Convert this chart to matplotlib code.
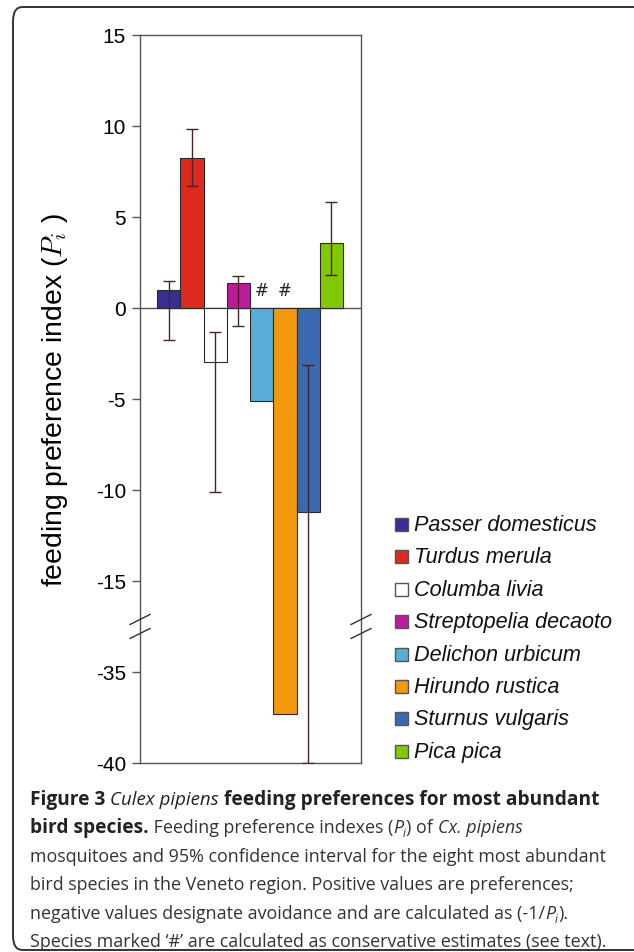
import numpy as np
import matplotlib
matplotlib.use("Agg")
import matplotlib.pyplot as plt
from matplotlib.patches import Rectangle, FancyBboxPatch

plt.rcParams['axes.unicode_minus'] = False
plt.rcParams['mathtext.fontset'] = 'cm'

species = ['Passer domesticus', 'Turdus merula', 'Columba livia',
           'Streptopelia decaoto', 'Delichon urbicum', 'Hirundo rustica',
           'Sturnus vulgaris', 'Pica pica']
pref_index = [1.0, 8.25, -2.95, 1.35, -5.1, -37.3, -11.2, 3.55]
ci_low = [-1.75, 6.7, -10.1, -1.0, None, None, -40.0, 1.8]
ci_high = [1.5, 9.85, -1.3, 1.75, None, None, -3.15, 5.85]
conservative = [False, False, False, False, True, True, False, False]
colors = ['#382f94', '#dd2a1f', '#ffffff', '#bb1b9b', '#59aed9',
          '#f3980d', '#3a68b1', '#80c802']
yticks = [15, 10, 5, 0, -5, -10, -15, -35, -40]

W, H = 634, 953

def fx(px):
    return px / W

def fy(py):
    return 1 - py / H

# broken y axis: values between -32.5 and -17.5 are squeezed out
def fwd(v):
    v = np.asarray(v, dtype=float)
    return np.where(v >= -17.5, v, np.where(v <= -32.5, v + 15, -17.5))

def inv(t):
    t = np.asarray(t, dtype=float)
    return np.where(t >= -17.5, t, t - 15)

fig = plt.figure(figsize=(W / 100, H / 100), dpi=100)
ax = fig.add_axes([fx(140), fy(764), fx(361) - fx(140), fy(36) - fy(764)])
ax.set_yscale('function', functions=(fwd, inv))

x = np.arange(len(species))
ax.bar(x, pref_index, width=1.0, color=colors, edgecolor='#2a2a2a',
       linewidth=0.8, zorder=2)
ax.axhline(0, color='#555555', lw=1.0, zorder=1)

idx = [i for i in range(len(species)) if ci_low[i] is not None]
vals = np.array([pref_index[i] for i in idx])
lo = np.array([ci_low[i] for i in idx])
hi = np.array([ci_high[i] for i in idx])
ax.errorbar(x[idx], vals, yerr=[vals - lo, hi - vals], fmt='none',
            ecolor='#4a2424', elinewidth=1.0, capsize=4, capthick=1.0,
            zorder=3)

for i in range(len(species)):
    if conservative[i]:
        ax.text(x[i], 1.0, '#', ha='center', va='center', fontsize=12,
                family='DejaVu Sans', color='#222222')

ax.set_xlim(-1.23, 8.27)
ax.set_ylim(-40, 15)
ax.set_xticks([])
ax.set_yticks(yticks)
ax.set_yticklabels([str(t) for t in yticks], family='Liberation Sans',
                   fontsize=15)
ax.tick_params(axis='y', direction='out', length=6, width=1,
               color='#555555', pad=4)
for s in ax.spines.values():
    s.set_color('#555555')
    s.set_linewidth(1.0)

ax.set_ylabel('feeding preference index ($P_i$ )', family='Liberation Sans',
              fontsize=20.4)
ax.yaxis.set_label_coords(-0.317, 0.5)

# break marks on both spines
yb = (float(fwd(-17.5)) - float(fwd(-40))) / (float(fwd(15)) - float(fwd(-40)))
axw, axh = 221.0, 728.0
for xs in (0.0, 1.0):
    for off in (-7, 7):
        ax.plot([xs - 10 / axw, xs + 10 / axw],
                [yb + (off - 5) / axh, yb + (off + 5) / axh],
                transform=ax.transAxes, color='#333333', lw=1.0,
                clip_on=False, zorder=5)

# legend
for i, name in enumerate(species):
    yc = 525.5 + 32.4 * i
    fig.add_artist(Rectangle((fx(395), fy(yc + 6.5)), fx(13), 13 / H,
                             transform=fig.transFigure, facecolor=colors[i],
                             edgecolor='#555555', lw=1.0))
    fig.text(fx(414), fy(yc), name, ha='left', va='center', style='italic',
             family='Liberation Sans', fontsize=15.6, color='#111111')

# rounded frame around figure and caption
fig.add_artist(FancyBboxPatch((fx(13), fy(951)), fx(700), (951 - 8) / H,
                              boxstyle='round,pad=0,rounding_size=0.015',
                              transform=fig.transFigure, facecolor='none',
                              edgecolor='#333333', lw=1.4))

# caption, written run by run with mixed styles
renderer = fig.canvas.get_renderer()
cap = dict(family='Open Sans', fontsize=12.9, color='#333333')
bold = dict(cap, fontsize=13.8, weight='bold', color='#222222')
ital = dict(cap, style='italic')

def run_width(s, kw):
    t1 = fig.text(0, 0, '|' + s + '|', **kw)
    t2 = fig.text(0, 0, '||', **kw)
    w = t1.get_window_extent(renderer).width - t2.get_window_extent(renderer).width
    t1.remove()
    t2.remove()
    return w

def draw_line(px, py, parts):
    for s, kw in parts:
        dy = 0
        if kw.get('sub'):
            kw = {k: v for k, v in kw.items() if k != 'sub'}
            dy = 4
        fig.text(fx(px), fy(py + dy), s, va='baseline', ha='left', **kw)
        px += run_width(s, kw)

sub = dict(ital, fontsize=8.5, sub=True)
lines = [
    [('Figure 3 ', bold), ('Culex pipiens', dict(ital, fontsize=13.4, color='#222222')),
     (' feeding preferences for most abundant', bold)],
    [('bird species.', bold), (' Feeding preference indexes (', cap), ('P', ital),
     ('i', sub), (') of ', cap), ('Cx. pipiens', ital)],
    [('mosquitoes and 95% confidence interval for the eight most abundant', cap)],
    [('bird species in the Veneto region. Positive values are preferences;', cap)],
    [('negative values designate avoidance and are calculated as (-1/', cap),
     ('P', ital), ('i', sub), (').', cap)],
    [('Species marked \u2018#\u2019 are calculated as conservative estimates (see text).', cap)],
]
for k, parts in enumerate(lines):
    draw_line(30, 805 + 28.4 * k, parts)

fig.savefig('out.png', dpi=100)
